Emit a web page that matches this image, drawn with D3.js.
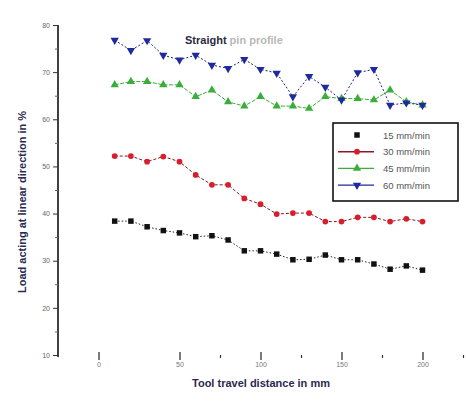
<!DOCTYPE html>
<html>
<head>
<meta charset="utf-8">
<script src="https://cdn.jsdelivr.net/npm/d3@7/dist/d3.min.js"></script>
<style>
  html, body { margin: 0; padding: 0; background: #fff; }
  svg { display: block; }
  text { font-family: "Liberation Sans", Arial, sans-serif; }
</style>
</head>
<body>
<svg id="chart" width="466" height="402"></svg>
<script>
// Tool travel distance (mm)
const distance = [10, 20, 30, 40, 50, 60, 70, 80, 90, 100, 110, 120, 130, 140, 150, 160, 170, 180, 190, 200];

// Load acting at linear direction (%) per feed rate
const feed15 = [38.4, 38.4, 37.2, 36.4, 35.9, 35.1, 35.3, 34.4, 32.1, 32.1, 31.4, 30.2, 30.3, 31.2, 30.2, 30.2, 29.3, 28.2, 28.9, 28.0];
const feed30 = [52.2, 52.2, 51.0, 52.1, 51.0, 48.2, 46.1, 46.1, 43.2, 42.0, 39.9, 40.1, 40.1, 38.3, 38.3, 39.2, 39.2, 38.3, 38.9, 38.3];
const feed45 = [67.3, 68.0, 68.0, 67.3, 67.3, 64.8, 66.2, 63.7, 62.8, 64.8, 62.8, 62.8, 62.3, 64.8, 64.4, 64.4, 64.1, 66.2, 63.7, 63.0];
const feed60 = [76.8, 74.6, 76.7, 73.6, 72.6, 73.6, 71.5, 70.8, 72.7, 70.6, 69.8, 64.8, 69.1, 66.8, 64.1, 69.9, 70.6, 63.0, 63.5, 63.0];

const seriesNames = ["15 mm/min", "30 mm/min", "45 mm/min", "60 mm/min"];

const xTicks = [0, 50, 100, 150, 200];
const xMinorTicks = [75, 125, 175, 225];
const yTicks = [10, 20, 30, 40, 50, 60, 70, 80];
const yMinorTicks = [15, 25, 35, 45, 55, 65, 75];

const titleBold = "Straight";
const titleRest = " pin profile";
const xTitle = "Tool travel distance in mm";
const yTitle = "Load acting at linear direction in %";

const svg = d3.select("#chart");

const x = d3.scaleLinear().domain([-25, 225]).range([58, 463]);
const y = d3.scaleLinear().domain([10, 80]).range([355, 25]);

const series = [
  { name: seriesNames[0], values: feed15, color: "#111111", line: "#222222", dash: "1.5,2", shape: d3.symbolSquare, rot: 0, showLine: false },
  { name: seriesNames[1], values: feed30, color: "#d81e2c", line: "#7a1a22", dash: "3,2", shape: d3.symbolCircle, rot: 0, showLine: true },
  { name: seriesNames[2], values: feed45, color: "#3aae3a", line: "#3aae3a", dash: "4,1.5", shape: d3.symbolTriangle, rot: 0, showLine: true },
  { name: seriesNames[3], values: feed60, color: "#1f2a9c", line: "#1a2280", dash: "2,2", shape: d3.symbolTriangle, rot: 180, showLine: true }
];

// Y axis: line with outward ticks
const yAxis = d3.axisLeft(y).tickValues(yTicks).tickSize(5).tickPadding(3).tickFormat(d3.format("d"));
const gy = svg.append("g").attr("transform", "translate(58,0)").call(yAxis);
gy.select(".domain").attr("stroke", "#111").attr("stroke-width", 1.6).attr("d", "M0,25V357");
gy.selectAll(".tick line").attr("stroke", "#333");
gy.selectAll(".tick text").attr("font-size", 7).attr("fill", "#666");
const gyMinor = svg.append("g").attr("transform", "translate(58,0)")
  .call(d3.axisLeft(y).tickValues(yMinorTicks).tickSize(3).tickFormat(""));
gyMinor.select(".domain").remove();
gyMinor.selectAll(".tick line").attr("stroke", "#666");

// X axis: ticks only, no baseline
const xAxis = d3.axisBottom(x).tickValues(xTicks).tickSize(8).tickPadding(2).tickFormat(d3.format("d"));
const gx = svg.append("g").attr("transform", "translate(0,352)").call(xAxis);
gx.select(".domain").remove();
gx.selectAll(".tick line").attr("stroke", "#222").attr("stroke-width", 1.2);
gx.selectAll(".tick text").attr("font-size", 7).attr("fill", "#777");
const gxMinor = svg.append("g").attr("transform", "translate(0,355)")
  .call(d3.axisBottom(x).tickValues(xMinorTicks).tickSize(3).tickFormat(""));
gxMinor.select(".domain").remove();
gxMinor.selectAll(".tick line").attr("stroke", "#333").attr("stroke-width", 1.2);

// Axis titles
svg.append("text")
  .attr("x", 261).attr("y", 387)
  .attr("text-anchor", "middle")
  .attr("font-size", 11).attr("font-weight", "bold").attr("fill", "#2a2a50")
  .text(xTitle);
svg.append("text")
  .attr("transform", "translate(26,202) rotate(-90)")
  .attr("text-anchor", "middle")
  .attr("font-size", 11).attr("font-weight", "bold").attr("fill", "#2a2a50")
  .text(yTitle);

// Chart title
const t = svg.append("text").attr("x", 185).attr("y", 44)
  .attr("font-size", 11).attr("font-weight", "bold");
t.append("tspan").attr("fill", "#2a2a40").text(titleBold);
t.append("tspan").attr("fill", "#b8b8b8").text(titleRest);

// Series lines and markers
const line = d3.line().x((d, i) => x(distance[i])).y(d => y(d));
series.forEach(s => {
  svg.append("path")
    .datum(s.values)
    .attr("d", line)
    .attr("fill", "none")
    .attr("stroke", s.line)
    .attr("stroke-width", 1)
    .attr("stroke-dasharray", s.dash);
  svg.append("g").selectAll("path")
    .data(s.values)
    .join("path")
    .attr("d", d3.symbol().type(s.shape).size(s.shape === d3.symbolCircle ? 26 : 30))
    .attr("transform", (d, i) => `translate(${x(distance[i])},${y(d)}) rotate(${s.rot})`)
    .attr("fill", s.color);
});

// Legend
const lg = svg.append("g");
lg.append("rect")
  .attr("x", 333).attr("y", 123).attr("width", 125).attr("height", 78)
  .attr("fill", "#fff").attr("stroke", "#111").attr("stroke-width", 1.6);
series.forEach((s, i) => {
  const cy = 135 + i * 16.7;
  if (s.showLine) {
    lg.append("line").attr("x1", 338).attr("x2", 374).attr("y1", cy).attr("y2", cy)
      .attr("stroke", s.color === "#d81e2c" ? "#8a1a24" : s.color).attr("stroke-width", 1.4);
  }
  lg.append("path")
    .attr("d", d3.symbol().type(s.shape).size(s.shape === d3.symbolCircle ? 26 : 30))
    .attr("transform", `translate(357,${cy}) rotate(${s.rot})`)
    .attr("fill", s.color);
  lg.append("text").attr("x", 383).attr("y", cy + 3.5)
    .attr("font-size", 9.5).attr("fill", "#555")
    .text(s.name);
});
</script>
</body>
</html>
